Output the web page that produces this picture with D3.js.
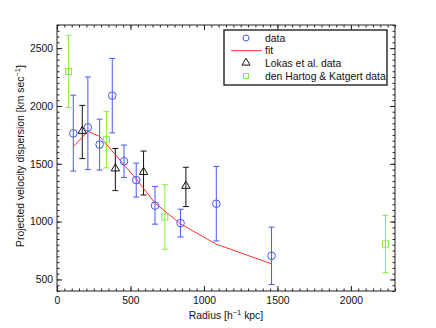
<!DOCTYPE html>
<html>
<head>
<meta charset="utf-8">
<script src="https://cdn.jsdelivr.net/npm/d3@7"></script>
<style>
  body { margin: 0; background: #fff; }
  svg { font-family: "Liberation Sans", Arial, Helvetica, sans-serif; }
</style>
</head>
<body>
<script>
"use strict";

// our data: radius, dispersion and errors (lower / upper)
let radius = [111, 210, 290, 376, 456, 539, 667, 841, 1084, 1460];
let sigma = [1763, 1815, 1666, 2089, 1522, 1359, 1138, 987, 1155, 704];
let errLo = [326, 365, 220, 322, 140, 147, 160, 120, 322, 248];
let errHi = [330, 435, 220, 322, 140, 147, 166, 120, 322, 248];

// fit evaluated at the data radii
let fitSigma = [1648, 1780, 1737, 1610, 1492, 1368, 1160, 980, 805, 635];

// Lokas et al.
let lokasR = [172, 397, 589, 877];
let lokasSigma = [1775, 1450, 1420, 1300];
let lokasErr = [230, 182, 190, 170];

// den Hartog & Katgert
let dhkR = [79, 336, 734, 2235];
let dhkSigma = [2298, 1708, 1040, 806];
let dhkErr = [313, 243, 279, 248];

let xTicks = [0, 500, 1000, 1500, 2000];
let yTicks = [500, 1000, 1500, 2000, 2500];
let legendLabels = ["data", "fit", "Lokas et al. data", "den Hartog & Katgert data"];

let w = 436, h = 328;
let pLeft = 57, pRight = 395, pTop = 25, pBottom = 291;
let fontSize = "10.4px";

let blue = "#4858f0", red = "#ff3030", green = "#80ee40", black = "#111";

let x = d3.scaleLinear().domain([0, 2300]).range([pLeft, pRight]);
let y = d3.scaleLinear().domain([400, 2700]).range([pBottom, pTop]);

let svg = d3.select("body").append("svg")
    .attr("width", w)
    .attr("height", h);

// minor ticks every 50
let xMinor = d3.range(0, 2301, 50);
let yMinor = d3.range(400, 2701, 50);

function axisGroup(axis, tx, ty) {
    let g = svg.append("g").attr("transform", "translate(" + tx + "," + ty + ")").call(axis);
    g.select(".domain").remove();
    g.selectAll("line").attr("stroke", "#222");
    g.selectAll("text").style("font-size", fontSize).attr("fill", "#111");
    return g;
}

// bottom
axisGroup(d3.axisBottom(x).tickValues(xMinor).tickSize(-2.5).tickFormat(""), 0, pBottom);
axisGroup(d3.axisBottom(x).tickValues(xTicks).tickSize(-5).tickPadding(5.5).tickFormat(d3.format("d")), 0, pBottom);
// top
axisGroup(d3.axisTop(x).tickValues(xMinor).tickSize(-2.5).tickFormat(""), 0, pTop);
axisGroup(d3.axisTop(x).tickValues(xTicks).tickSize(-5).tickFormat(""), 0, pTop);
// left
axisGroup(d3.axisLeft(y).tickValues(yMinor).tickSize(-2.5).tickFormat(""), pLeft, 0);
axisGroup(d3.axisLeft(y).tickValues(yTicks).tickSize(-5).tickPadding(4).tickFormat(d3.format("d")), pLeft, 0);
// right
axisGroup(d3.axisRight(y).tickValues(yMinor).tickSize(-2.5).tickFormat(""), pRight, 0);
axisGroup(d3.axisRight(y).tickValues(yTicks).tickSize(-5).tickFormat(""), pRight, 0);

// frame
svg.append("rect")
    .attr("x", pLeft).attr("y", pTop)
    .attr("width", pRight - pLeft).attr("height", pBottom - pTop)
    .attr("fill", "none")
    .attr("stroke", "#222")
    .attr("stroke-width", 1);

// error bars with little caps
function errorBars(xs, ys, lo, hi, color) {
    let g = svg.append("g").attr("stroke", color).attr("stroke-width", 1).attr("fill", "none");
    xs.forEach(function (r, i) {
        let cx = x(r), y1 = y(ys[i] - lo[i]), y2 = y(ys[i] + hi[i]);
        g.append("line").attr("x1", cx).attr("x2", cx).attr("y1", y1).attr("y2", y2);
        g.append("line").attr("x1", cx - 3).attr("x2", cx + 3).attr("y1", y1).attr("y2", y1);
        g.append("line").attr("x1", cx - 3).attr("x2", cx + 3).attr("y1", y2).attr("y2", y2);
    });
}

errorBars(dhkR, dhkSigma, dhkErr, dhkErr, green);
errorBars(lokasR, lokasSigma, lokasErr, lokasErr, black);
errorBars(radius, sigma, errLo, errHi, blue);

// fit line
let line = d3.line()
    .x(function (d, i) { return x(radius[i]); })
    .y(function (d) { return y(d); });

svg.append("path")
    .datum(fitSigma)
    .attr("d", line)
    .attr("fill", "none")
    .attr("stroke", red)
    .attr("stroke-width", 1);

// markers
let tri = d3.symbol().type(d3.symbolTriangle).size(30);

svg.append("g").selectAll("path")
    .data(lokasR)
    .enter()
    .append("path")
    .attr("d", tri)
    .attr("transform", function (d, i) { return "translate(" + x(d) + "," + (y(lokasSigma[i]) - 1) + ")"; })
    .attr("fill", "none")
    .attr("stroke", black)
    .attr("stroke-width", 1);

svg.append("g").selectAll("rect")
    .data(dhkR)
    .enter()
    .append("rect")
    .attr("x", function (d) { return x(d) - 3; })
    .attr("y", function (d, i) { return y(dhkSigma[i]) - 3; })
    .attr("width", 6).attr("height", 6)
    .attr("fill", "none")
    .attr("stroke", green)
    .attr("stroke-width", 1);

svg.append("g").selectAll("circle")
    .data(radius)
    .enter()
    .append("circle")
    .attr("cx", function (d) { return x(d); })
    .attr("cy", function (d, i) { return y(sigma[i]); })
    .attr("r", 3.8)
    .attr("fill", "none")
    .attr("stroke", blue)
    .attr("stroke-width", 1);

// axis titles
let xt = svg.append("text")
    .attr("x", (pLeft + pRight) / 2)
    .attr("y", 319)
    .attr("text-anchor", "middle")
    .style("font-size", fontSize)
    .attr("fill", "#111");
xt.append("tspan").text("Radius [h");
xt.append("tspan").attr("dy", -4).style("font-size", "7.5px").text("−1");
xt.append("tspan").attr("dy", 4).text(" kpc]");

let yt = svg.append("text")
    .attr("transform", "translate(24," + ((pTop + pBottom) / 2 - 2) + ") rotate(-90)")
    .attr("text-anchor", "middle")
    .style("font-size", fontSize)
    .attr("fill", "#111");
yt.append("tspan").text("Projected velocity dispersion [km sec");
yt.append("tspan").attr("dy", -4).style("font-size", "7.5px").text("−1");
yt.append("tspan").attr("dy", 4).text("]");

// legend
let legend = svg.append("g");
legend.append("rect")
    .attr("x", 224).attr("y", 30)
    .attr("width", 163).attr("height", 55)
    .attr("fill", "#fff")
    .attr("stroke", "#222")
    .attr("stroke-width", 1.4);

let rowY = [38, 50.7, 63.3, 76];
let symX = 246;

legend.append("circle").attr("cx", symX).attr("cy", rowY[0]).attr("r", 3)
    .attr("fill", "none").attr("stroke", blue);
legend.append("line").attr("x1", 231).attr("x2", 262).attr("y1", rowY[1]).attr("y2", rowY[1])
    .attr("stroke", red);
legend.append("path").attr("d", d3.symbol().type(d3.symbolTriangle).size(28))
    .attr("transform", "translate(" + symX + "," + (rowY[2] - 0.5) + ")")
    .attr("fill", "none").attr("stroke", black);
legend.append("rect").attr("x", symX - 2.5).attr("y", rowY[3] - 2.5).attr("width", 5).attr("height", 5)
    .attr("fill", "none").attr("stroke", green);

legend.selectAll("text")
    .data(legendLabels)
    .enter()
    .append("text")
    .attr("x", 265)
    .attr("y", function (d, i) { return rowY[i] + 3.7; })
    .style("font-size", fontSize)
    .attr("fill", "#111")
    .text(function (d) { return d; });
</script>
</body>
</html>
